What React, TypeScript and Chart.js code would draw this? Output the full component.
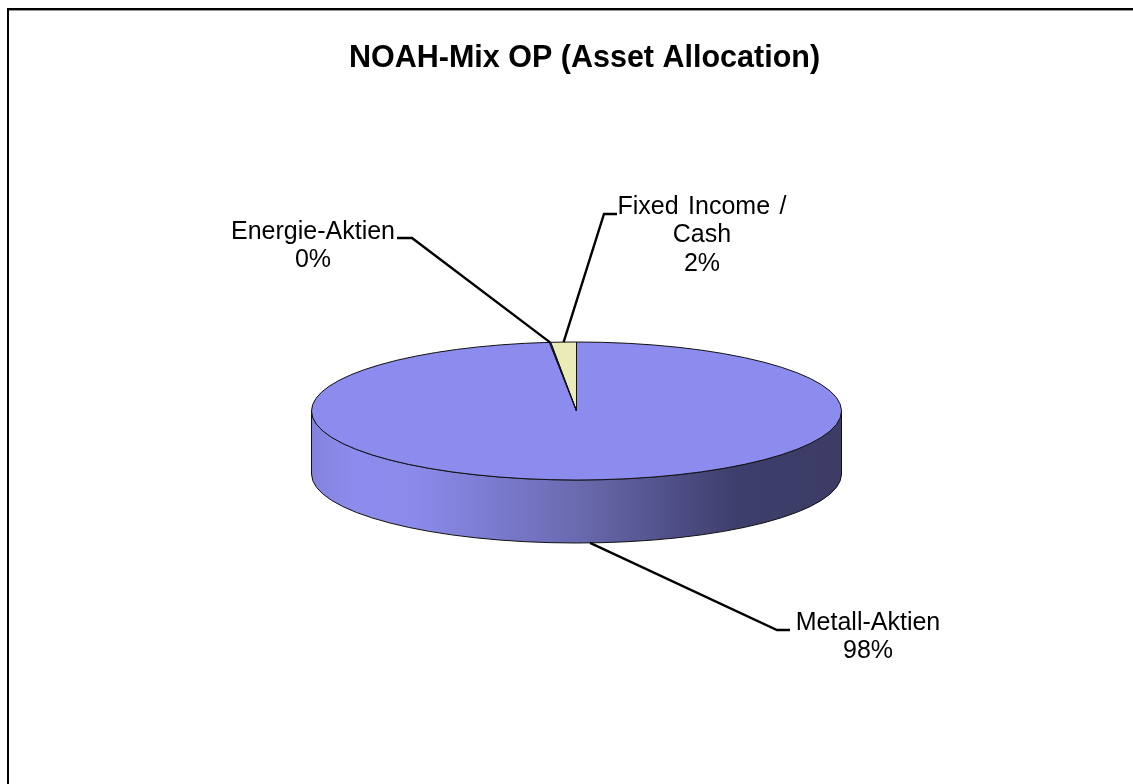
import React, { useEffect, useRef } from "react";
import { Chart, registerables } from "chart.js";

Chart.register(...registerables);

const TITLE = "NOAH-Mix OP (Asset Allocation)";
const categories = ["Metall-Aktien", "Energie-Aktien", "Fixed Income /\nCash"];
const shares = [98.37, 0.08, 1.55];
const sliceColors = ["#8C8CEE", "#8C8CEE", "#EBEBB8"];

const FONT = '"Liberation Sans", Arial, sans-serif';
const W = 1133;
const H = 784;
const RY = 69;
const DEPTH = 63;
const TITLE_CENTER_X = 584.5;

// label anchor (centre x, first baseline-middle y) and elbow of each leader
const labelStyle = [
  { cx: 868, y: 623, elbow: [777, 630], end: [790, 630] },
  { cx: 313, y: 232, elbow: [412, 238], end: [397, 238] },
  { cx: 702, y: 207, elbow: [604, 214], end: [617, 214] },
];

const piePlugin = {
  id: "pie3d",
  afterLayout(chart: any) {
    const tb = chart.titleBlock;
    if (tb) {
      tb.left = TITLE_CENTER_X * 2 - W;
      tb.right = W;
    }
  },
  beforeDraw(chart: any) {
    const ctx = chart.ctx;
    ctx.save();
    ctx.fillStyle = "#ffffff";
    ctx.fillRect(0, 0, W, H);
    ctx.fillStyle = "#000000";
    ctx.fillRect(7, 8, W - 7, 2);
    ctx.fillRect(7, 8, 2, H - 8);
    ctx.fillStyle = "#999999";
    ctx.fillRect(9, 10, W - 9, 1);
    ctx.restore();
  },
  beforeDatasetsDraw(chart: any) {
    const ctx = chart.ctx;
    const el = chart.getDatasetMeta(0).data[0];
    const { x, y, outerRadius: r } = el;
    const g = ctx.createLinearGradient(x - r, 0, x + r, 0);
    g.addColorStop(0, "#8383DE");
    g.addColorStop(0.08, "#8C8CEE");
    g.addColorStop(0.2, "#8A8AEA");
    g.addColorStop(0.5, "#6A6AB0");
    g.addColorStop(0.8, "#3E3E6C");
    g.addColorStop(1, "#3C3C66");
    ctx.save();
    ctx.beginPath();
    ctx.ellipse(x, y, r, RY, 0, Math.PI, 0, true);
    ctx.lineTo(x + r, y + DEPTH);
    ctx.ellipse(x, y + DEPTH, r, RY, 0, 0, Math.PI, false);
    ctx.closePath();
    ctx.fillStyle = g;
    ctx.fill();
    ctx.strokeStyle = "#111111";
    ctx.lineWidth = 1;
    ctx.stroke();
    ctx.restore();
    // squash the flat pie into the top face of the disc
    ctx.save();
    ctx.translate(x, y);
    ctx.scale(1, RY / r);
    ctx.translate(-x, -y);
  },
  afterDatasetsDraw(chart: any) {
    const ctx = chart.ctx;
    ctx.restore();
    const arcs = chart.getDatasetMeta(0).data;
    const k = RY / arcs[0].outerRadius;
    ctx.save();
    ctx.strokeStyle = "#111111";
    ctx.lineWidth = 1;
    arcs.forEach((a: any) => {
      ctx.save();
      ctx.beginPath();
      ctx.translate(a.x, a.y);
      ctx.scale(1, k);
      ctx.moveTo(0, 0);
      ctx.arc(0, 0, a.outerRadius, a.startAngle, a.endAngle);
      ctx.closePath();
      ctx.restore();
      ctx.stroke();
    });
    // leaders and labels
    const total = shares.reduce((s, v) => s + v, 0);
    ctx.lineWidth = 2.4;
    ctx.strokeStyle = "#000000";
    ctx.lineJoin = "miter";
    arcs.forEach((a: any, i: number) => {
      const st = labelStyle[i];
      const mid = (a.startAngle + a.endAngle) / 2;
      const sy = Math.sin(mid);
      const ax = a.x + a.outerRadius * Math.cos(mid);
      const ay = a.y + RY * sy + (sy > 0 ? DEPTH : 0);
      ctx.beginPath();
      ctx.moveTo(ax, ay);
      ctx.lineTo(st.elbow[0], st.elbow[1]);
      ctx.lineTo(st.end[0], st.end[1]);
      ctx.stroke();
      const lines = [...categories[i].split("\n"), `${Math.round((shares[i] / total) * 100)}%`];
      ctx.font = `25px ${FONT}`;
      ctx.wordSpacing = "2.5px";
      ctx.fillStyle = "#000000";
      ctx.textAlign = "center";
      ctx.textBaseline = "middle";
      lines.forEach((t, j) => ctx.fillText(t, st.cx, st.y + j * 28.5));
    });
    ctx.restore();
  },
};

export default function App() {
  const ref = useRef<HTMLCanvasElement>(null);
  useEffect(() => {
    const chart = new Chart(ref.current as HTMLCanvasElement, {
      type: "pie",
      data: {
        labels: categories,
        datasets: [
          {
            data: shares,
            backgroundColor: sliceColors,
            borderWidth: 0,
            hoverOffset: 0,
          },
        ],
      },
      options: {
        responsive: false,
        animation: false,
        events: [],
        layout: { padding: { left: 311, right: 291, top: 0, bottom: 108 } },
        plugins: {
          legend: { display: false },
          tooltip: { enabled: false },
          title: {
            display: true,
            text: TITLE,
            color: "#000000",
            font: { family: FONT, size: 30.5, weight: "bold", lineHeight: 1.2 },
            padding: { top: 40.5, bottom: 68.9 },
          },
        },
      },
      plugins: [piePlugin],
    } as any);
    return () => chart.destroy();
  }, []);
  return (
    <div style={{ position: "absolute", left: 0, top: 0, width: W, height: H, background: "#fff" }}>
      <canvas ref={ref} width={W} height={H} style={{ display: "block" }} />
    </div>
  );
}
